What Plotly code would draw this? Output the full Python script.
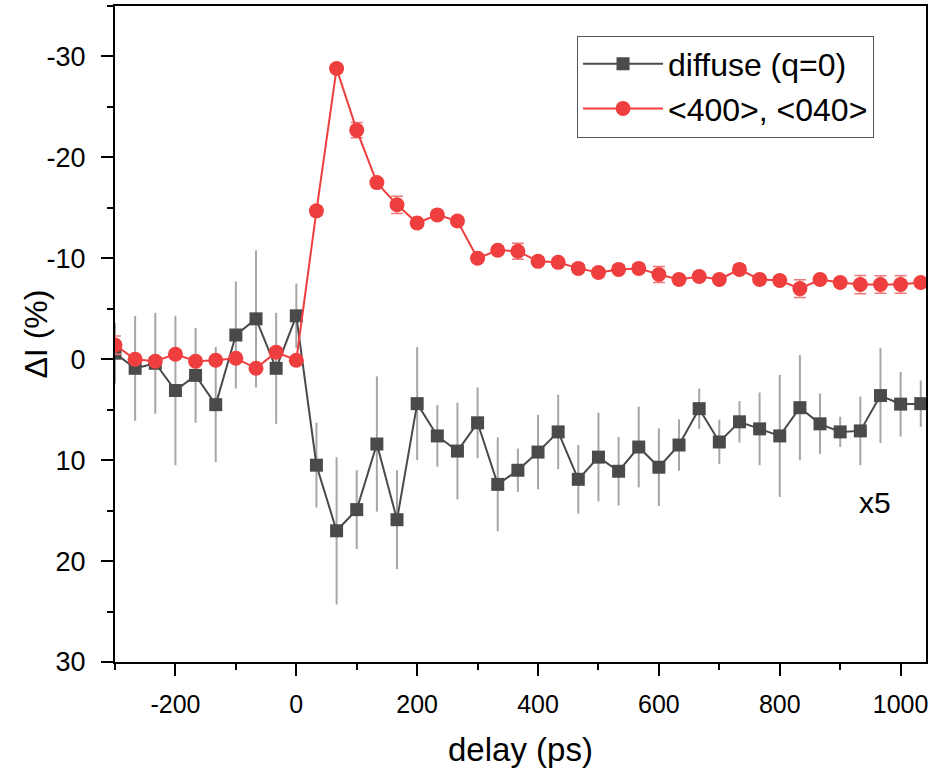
import plotly.graph_objects as go

# delay points (ps), every 33.3 ps
delay = [k * 100 / 3 for k in range(-9, 32)]

diffuse = [-0.6, 0.9, 0.4, 3.1, 1.6, 4.5, -2.4, -4.0, 0.9, -4.3,
           10.5, 17.0, 14.9, 8.4, 15.9, 4.4, 7.6, 9.1, 6.3, 12.4,
           11.0, 9.2, 7.2, 11.9, 9.7, 11.1, 8.7, 10.7, 8.5, 4.9,
           8.2, 6.2, 6.9, 7.6, 4.8, 6.4, 7.2, 7.1, 3.6, 4.45, 4.4]
diffuse_err = [3.0, 5.2, 5.0, 7.4, 4.7, 5.7, 5.3, 6.8, 5.5, 3.2,
               4.2, 7.3, 3.9, 6.7, 4.9, 5.6, 3.05, 4.8, 3.5, 4.65,
               2.15, 3.7, 3.7, 3.4, 4.4, 3.4, 4.0, 3.85, 2.55, 2.0,
               2.2, 2.05, 3.6, 6.05, 5.2, 3.0, 1.5, 3.4, 4.7, 3.2, 2.3]

bragg = [-1.4, 0.0, 0.2, -0.5, 0.2, 0.1, -0.1, 0.9, -0.7, 0.1,
         -14.7, -28.8, -22.7, -17.5, -15.3, -13.5, -14.3, -13.7, -10.0, -10.8,
         -10.7, -9.7, -9.6, -9.0, -8.6, -8.9, -9.0, -8.4, -7.9, -8.2,
         -7.9, -8.9, -7.9, -7.8, -7.0, -7.9, -7.6, -7.4, -7.4, -7.4, -7.6]
bragg_err = [0.9, 0.4, 0.4, 0.4, 0.4, 0.4, 0.4, 0.4, 0.4, 0.4,
             0.4, 0.4, 0.75, 0.4, 0.85, 0.4, 0.4, 0.4, 0.4, 0.4,
             0.8, 0.4, 0.4, 0.4, 0.4, 0.4, 0.4, 0.8, 0.4, 0.4,
             0.4, 0.4, 0.4, 0.4, 0.88, 0.4, 0.4, 0.9, 0.86, 0.86, 0.4]

x_ticks = [-200, 0, 200, 400, 600, 800, 1000]
y_ticks = [-30, -20, -10, 0, 10, 20, 30]

font = "Liberation Sans, Arial, sans-serif"

fig = go.Figure()
fig.add_trace(go.Scatter(
    x=delay, y=diffuse, mode="lines+markers", name="diffuse (q=0)",
    line=dict(color="#4a4a4a", width=2),
    marker=dict(symbol="square", size=13, color="#4a4a4a"),
    error_y=dict(type="data", array=diffuse_err, color="#a6a6a6",
                 thickness=2, width=0)))
fig.add_trace(go.Scatter(
    x=delay, y=bragg, mode="lines+markers", name="<400>, <040>",
    line=dict(color="#ef3e3e", width=2),
    marker=dict(symbol="circle", size=15, color="#ef3e3e"),
    error_y=dict(type="data", array=bragg_err, color="#f07878",
                 thickness=1.5, width=6)))

fig.add_annotation(x=958, y=14.2, text="x5", showarrow=False,
                   xref="x", yref="y", font=dict(size=30, color="black", family=font))
fig.add_annotation(x=0.5, y=-0.133, xref="paper", yref="paper", text="delay (ps)",
                   showarrow=False, yanchor="middle",
                   font=dict(size=33, color="black", family=font))
fig.add_annotation(x=-0.098, y=0.5, xref="paper", yref="paper", text="ΔI (%)",
                   showarrow=False, textangle=-90, xanchor="center",
                   font=dict(size=32, color="black", family=font))

axis_common = dict(showline=True, linecolor="black", linewidth=2, mirror=True,
                   ticks="outside", ticklen=12, tickwidth=2, tickcolor="black",
                   showgrid=False, zeroline=False, automargin=False,
                   ticklabeloverflow="allow")

fig.update_xaxes(range=[-300, 1042], tickmode="array", tickvals=x_ticks,
                 ticktext=[str(v) for v in x_ticks], ticklabelstandoff=7,
                 tickfont=dict(size=25, color="black", family=font),
                 minor=dict(dtick=100, tick0=0, ticks="outside", ticklen=6, tickwidth=2, tickcolor="black"),
                 **axis_common)
fig.update_yaxes(range=[30, -35], tickmode="array", tickvals=y_ticks,
                 ticktext=[str(v) for v in y_ticks], ticklabelstandoff=10,
                 tickfont=dict(size=27, color="black", family=font),
                 minor=dict(dtick=5, tick0=0, ticks="outside", ticklen=6, tickwidth=2, tickcolor="black"),
                 **axis_common)

fig.update_layout(
    width=929, height=768,
    margin=dict(l=115, r=3, t=6, b=106),
    plot_bgcolor="white", paper_bgcolor="white",
    font=dict(family=font, color="black"),
    showlegend=True,
    legend=dict(x=0.5697, y=0.955, xanchor="left", yanchor="top",
                bordercolor="#555555", borderwidth=1, bgcolor="white",
                font=dict(size=32, color="black", family=font),
                itemwidth=80, tracegroupgap=0),
)

# drop the default page margin so the figure sits at the window's corner
fig.write_html("out.html", config={"displayModeBar": False},
               post_script="document.body.style.margin='0';")
